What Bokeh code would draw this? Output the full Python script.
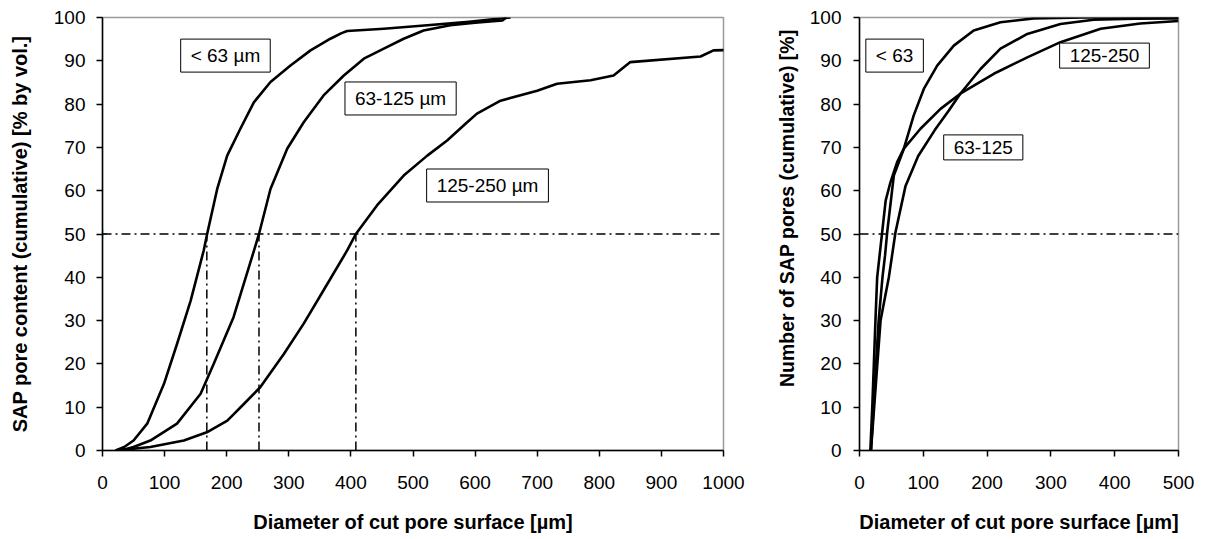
from bokeh.plotting import figure
from bokeh.layouts import row
from bokeh.models import Range1d, SingleIntervalTicker, Span, Label, Title
from bokeh.embed import file_html
from bokeh.resources import INLINE

# ---------------- data ----------------
# Left: SAP pore content (cumulative, % by vol.) vs. diameter of cut pore surface [µm]
vol_lt63_x = [21, 35, 50, 72, 99, 120, 142, 163, 168.5, 184.7, 200.8, 222, 243.7, 270.5, 302.7, 335, 367, 385, 394, 453, 523, 590, 657]
vol_lt63_y = [0, 0.8, 2.3, 6.2, 15.4, 24.6, 34.6, 46.2, 50, 60.4, 68.1, 74.3, 80.4, 85.1, 88.9, 92.4, 95.1, 96.4, 96.9, 97.4, 98.2, 99.0, 100]

vol_63_125_x = [29, 50, 77, 120, 158, 179, 211, 244, 252, 270.5, 297.4, 324, 356, 388.6, 420.8, 453, 485, 517, 560, 600, 644, 650]
vol_63_125_y = [0, 0.8, 2.3, 6.2, 13.1, 20, 30.8, 46.2, 50, 60.4, 69.7, 75.8, 82, 86.6, 90.5, 92.8, 95.1, 97, 98.2, 98.8, 99.3, 100]

vol_125_250_x = [21, 77, 131, 168, 201, 228, 254, 292, 324, 356, 394, 408, 442, 485, 523, 555, 585, 603, 641, 700, 732, 786, 823, 850, 963, 984, 1008]
vol_125_250_y = [0, 0.8, 2.3, 4.2, 6.9, 10.8, 14.6, 22.3, 29.3, 37, 46.2, 50, 56.6, 63.5, 68.1, 71.6, 75.5, 77.8, 80.8, 83.1, 84.7, 85.5, 86.6, 89.7, 91, 92.4, 92.5]

d50_vol = [168, 252, 408]          # diameters at 50 % by volume
median_level = 50

# Right: Number of SAP pores (cumulative) [%]
num_lt63_x = [18, 22, 30, 36, 40, 43.4, 53.8, 69.5, 85, 100.8, 121.8, 147.8, 179, 221, 273, 350, 500]
num_lt63_y = [0, 10, 30, 40, 45, 50.4, 63.5, 69.7, 77.4, 83.5, 88.9, 93.5, 97, 98.9, 99.8, 100, 100]

num_63_125_x = [18, 23, 33, 46, 56.4, 72, 92, 118, 140, 158, 189.7, 221, 263, 315, 367, 430, 500]
num_63_125_y = [0, 10, 30, 40, 50.4, 61, 68, 74, 78.5, 82.4, 88.1, 92.8, 96.2, 98.5, 99.5, 99.7, 99.8]

num_125_250_x = [17, 20, 25, 27.7, 35.5, 41, 48.6, 59, 69.5, 95.6, 127, 158, 210.5, 263, 315, 378, 440, 500]
num_125_250_y = [0, 10, 30, 40, 50.4, 57.7, 62, 66.6, 69.7, 74.3, 78.9, 82.4, 87, 90.8, 94.3, 97.4, 98.6, 99.2]

left_labels = ["< 63 µm", "63-125 µm", "125-250 µm"]
right_labels = ["< 63", "63-125", "125-250"]

x_title = "Diameter of cut pore surface [µm]"
y_title_left = "SAP pore content (cumulative) [% by vol.]"
y_title_right = "Number of SAP pores (cumulative) [%]"

# ---------------- styling ----------------
FONT = "Liberation Sans"
TICK_SIZE = "19px"
TITLE_SIZE = "20px"
DASHDOT = "9 4 2 4"


def make_fig(width, xmax, xint, bl, br, ystand):
    p = figure(width=width, height=539, output_backend="svg", toolbar_location=None,
               x_range=Range1d(0, xmax), y_range=Range1d(0, 100),
               min_border_left=bl, min_border_right=br, min_border_top=17, min_border_bottom=89)
    p.xgrid.visible = False
    p.ygrid.visible = False
    p.background_fill_color = "white"
    p.border_fill_color = "white"
    p.outline_line_color = "#9a9a9a"
    p.outline_line_width = 1.5
    p.xaxis.ticker = SingleIntervalTicker(interval=xint)
    p.yaxis.ticker = SingleIntervalTicker(interval=10)
    for ax in (p.xaxis, p.yaxis):
        ax.axis_line_color = "black"
        ax.axis_line_width = 1.5
        ax.major_tick_line_color = "black"
        ax.major_tick_line_width = 1.5
        ax.major_tick_out = 6
        ax.major_tick_in = 0
        ax.minor_tick_line_color = None
        ax.major_label_text_font = FONT
        ax.major_label_text_font_size = TICK_SIZE
        ax.major_label_text_color = "black"
        ax.axis_label_text_font = FONT
        ax.axis_label_text_font_size = TITLE_SIZE
        ax.axis_label_text_font_style = "bold"
        ax.axis_label_text_color = "black"
    p.xaxis.axis_label = x_title
    p.xaxis.major_label_standoff = 19
    p.yaxis.major_label_standoff = ystand
    p.xaxis.axis_label_standoff = 19
    return p


def add_box(p, x, y, text):
    p.add_layout(Label(x=x, y=y, text=text, text_font=FONT, text_font_size=TICK_SIZE,
                       text_align="center", text_baseline="middle", text_color="black",
                       border_line_color="black", border_line_width=1,
                       background_fill_color="white",
                       padding=dict(left=10, right=10, top=6, bottom=6)))


# ---------------- left chart ----------------
p1 = make_fig(760, 1000, 100, 102, 37, 11)
p1.yaxis.axis_label = y_title_left
p1.yaxis.axis_label_standoff = 20
p1.add_layout(Span(location=median_level, dimension="width", line_color="black",
                   line_width=1.5, line_dash=DASHDOT))
p1.segment(x0=d50_vol, y0=[0] * len(d50_vol), x1=d50_vol, y1=[median_level] * len(d50_vol),
           line_color="black", line_width=1.5, line_dash=DASHDOT)
for xs, ys in ((vol_lt63_x, vol_lt63_y), (vol_63_125_x, vol_63_125_y), (vol_125_250_x, vol_125_250_y)):
    p1.line(xs, ys, line_color="black", line_width=2.6, line_join="round")
p1.scatter([0], [median_level], marker="cross", size=9, line_color="#1a9e9e", line_width=1.5)
add_box(p1, 198, 91.2, left_labels[0])
add_box(p1, 480, 81.3, left_labels[1])
add_box(p1, 620, 61.2, left_labels[2])

# ---------------- right chart ----------------
p2 = make_fig(446, 500, 100, 99, 28, 12)
p2.add_layout(Span(location=median_level, dimension="width", line_color="black",
                   line_width=1.5, line_dash=DASHDOT))
for xs, ys in ((num_lt63_x, num_lt63_y), (num_63_125_x, num_63_125_y), (num_125_250_x, num_125_250_y)):
    p2.line(xs, ys, line_color="black", line_width=2.6, line_join="round")
add_box(p2, 55, 91.2, right_labels[0])
add_box(p2, 194, 70, right_labels[1])
add_box(p2, 384, 91.2, right_labels[2])
# y-axis title of the right chart sits above the frame centre in the reference
p2.add_layout(Title(text=y_title_right, align="right", offset=12, standoff=18,
                    text_font=FONT, text_font_size="19.5px", text_font_style="bold",
                    text_color="black"), "left")

layout = row(p1, p2)
open("out.html", "w").write(file_html(layout, INLINE))
